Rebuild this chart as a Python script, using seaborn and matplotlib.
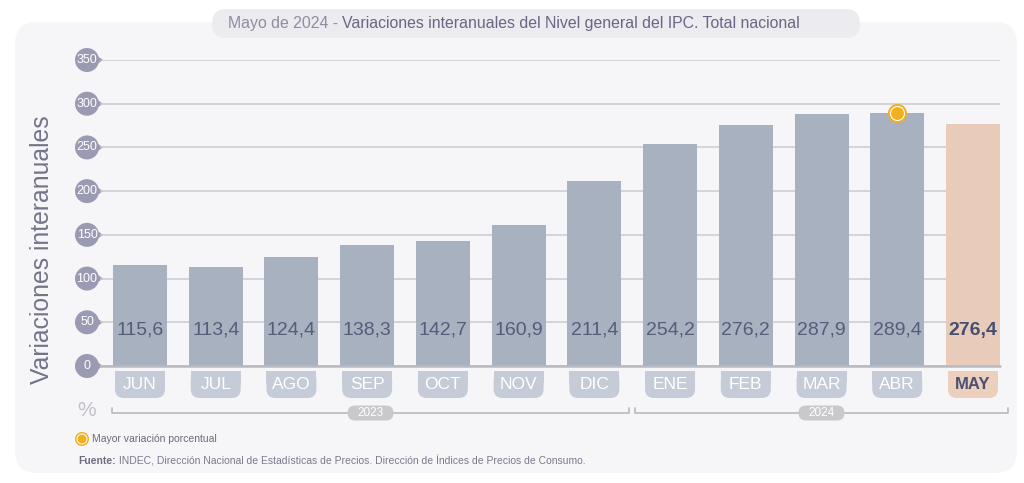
import matplotlib
matplotlib.use("Agg")
import matplotlib.pyplot as plt
import seaborn as sns
import pandas as pd
from matplotlib.patches import FancyBboxPatch, Rectangle, Circle, Polygon

# ---- data ----
months = ["JUN", "JUL", "AGO", "SEP", "OCT", "NOV", "DIC", "ENE", "FEB", "MAR", "ABR", "MAY"]
values = [115.6, 113.4, 124.4, 138.3, 142.7, 160.9, 211.4, 254.2, 276.2, 287.9, 289.4, 276.4]
years = ["2023"] * 7 + ["2024"] * 5
yticks = [0, 50, 100, 150, 200, 250, 300, 350]
max_month = "ABR"
title_a = "Mayo de 2024 - "
title_b = "Variaciones interanuales del Nivel general del IPC. Total nacional"
ylabel = "Variaciones interanuales"
legend_txt = "Mayor variación porcentual"
source_a = "Fuente:"
source_b = " INDEC, Dirección Nacional de Estadísticas de Precios. Dirección de Índices de Precios de Consumo."

df = pd.DataFrame({"mes": months, "valor": values, "anio": years})

sns.set_theme(style="white")
plt.rcParams["font.family"] = ["Liberation Sans", "DejaVu Sans"]

W, H = 1024, 483
fig = plt.figure(figsize=(W / 100, H / 100), dpi=100)
fig.patch.set_facecolor("white")

ov = fig.add_axes([0, 0, 1, 1], zorder=0)
ov.set_xlim(0, W)
ov.set_ylim(0, H)
ov.axis("off")

ax = fig.add_axes([100 / W, 117 / H, 900 / W, 306 / H], zorder=1)
ax.patch.set_alpha(0)

bar_col = "#a7b1bf"
hi_col = "#e8cbb9"
palette = {m: (hi_col if m == "MAY" else bar_col) for m in months}
bw = 0.713
sns.barplot(data=df, x="mes", y="valor", hue="mes", palette=palette, width=bw,
            saturation=1, legend=False, ax=ax, zorder=2, linewidth=0, edgecolor="none")
ax.set_xlim(-0.528, 11.357)
ax.set_ylim(0, 350)
ax.set_yticks(yticks)
ax.grid(axis="y", color="#cbcbd0", lw=1.1)
ax.set_axisbelow(True)
ax.tick_params(left=False, labelleft=False, bottom=False, labelbottom=False)
for s in ax.spines.values():
    s.set_visible(False)
ax.set_xlabel("")
ax.set_ylabel("")
ax.axhline(0, color="#b9b9c1", lw=1.8, zorder=3, clip_on=False)

# value labels
for i, (m, v) in enumerate(zip(months, values)):
    txt = f"{v:.1f}".replace(".", ",")
    if m == "MAY":
        ax.text(i, 41, txt, ha="center", va="center", fontsize=14, color="#474e70",
                fontweight="bold", zorder=4)
    else:
        ax.text(i, 41, txt, ha="center", va="center", fontsize=14, color="#565c7b", zorder=4)

# max marker
imax = months.index(max_month)
vmax = values[imax]
ax.scatter([imax], [vmax], s=190, color="#f0b020", zorder=5, clip_on=False, linewidths=0)
ax.scatter([imax], [vmax], s=118, color="white", zorder=6, clip_on=False, linewidths=0)
ax.scatter([imax], [vmax], s=86, color="#f0b020", zorder=7, clip_on=False, linewidths=0)


def to_px(x, y):
    return ax.transData.transform((x, y))


# background card and title pill
ov.add_patch(FancyBboxPatch((15, 10), 1002, 451, boxstyle="round,pad=0,rounding_size=22",
                            fc="#f6f6f8", ec="none", zorder=0))
ov.add_patch(FancyBboxPatch((212, 445), 648, 29, boxstyle="round,pad=0,rounding_size=14.5",
                            fc="#ebebf0", ec="none", zorder=1))
t1 = ov.text(228, 459.5, title_a, ha="left", va="center", fontsize=11.4, color="#8f8da0", zorder=2)
ov.annotate(title_b, xy=(1, 0), xycoords=t1, va="bottom", ha="left", fontsize=11.4,
            color="#6a6684", zorder=2)

# y label and %
ov.text(42, 233, ylabel, rotation=90, ha="center", va="center", fontsize=17.8, color="#73738a")
ov.text(87, 73, "%", ha="center", va="center", fontsize=15, color="#c0c0ca")

# y tick bubbles
for t in yticks:
    _, y = to_px(0, t)
    ov.add_patch(Polygon([(93, y + 7), (93, y - 7), (103, y)], closed=True, fc="#9a9ab2",
                         ec="none", zorder=3))
    ov.add_patch(Circle((87, y), 12, fc="#9a9ab2", ec="none", zorder=3))
    ov.text(87, y, str(t), ha="center", va="center", fontsize=9, color="white", zorder=4)

# month pills
bw_px = to_px(bw, 0)[0] - to_px(0, 0)[0]
pw = bw_px - 4
for i, m in enumerate(months):
    cx = to_px(i, 0)[0]
    fc = "#ecd0bd" if m == "MAY" else "#c5cbd7"
    ov.add_patch(FancyBboxPatch((cx - pw / 2, 85), pw, 27, boxstyle="round,pad=0,rounding_size=9",
                                fc=fc, ec="none", zorder=3))
    ov.add_patch(Rectangle((cx - pw / 2, 100), pw, 12, fc=fc, ec="none", zorder=3))
    if m == "MAY":
        ov.text(cx, 98.5, m, ha="center", va="center", fontsize=12, color="#4a5070",
                fontweight="bold", zorder=4)
    else:
        ov.text(cx, 98.5, m, ha="center", va="center", fontsize=12.5, color="white", zorder=4)

# year brackets
yl = 70
groups = [("2023", to_px(-0.37, 0)[0], to_px(6.5, 0)[0] - 3),
          ("2024", to_px(6.5, 0)[0] + 3, to_px(11.46, 0)[0])]
for lab, x0, x1 in groups:
    ov.plot([x0, x0, x1, x1], [yl + 5, yl, yl, yl + 5], color="#bdbdc4", lw=1.3, zorder=2)
    xm = (x0 + x1) / 2
    ov.add_patch(FancyBboxPatch((xm - 23, yl - 7.5), 46, 15, boxstyle="round,pad=0,rounding_size=7.5",
                                fc="#c9c9cd", ec="none", zorder=3))
    ov.text(xm, yl, lab, ha="center", va="center", fontsize=8.5, color="white", zorder=4)

# legend
ov.add_patch(Circle((82, 44), 7, fc="#f0b020", ec="none", zorder=3))
ov.add_patch(Circle((82, 44), 5.5, fc="white", ec="none", zorder=4))
ov.add_patch(Circle((82, 44), 4.5, fc="#f0b020", ec="none", zorder=5))
ov.text(92, 44, legend_txt, ha="left", va="center", fontsize=7.5, color="#6b6b7c")

# source
s1 = ov.text(78, 22, source_a, ha="left", va="center", fontsize=7.5, color="#6d6d82", fontweight="bold")
ov.annotate(source_b, xy=(1, 0), xycoords=s1, va="bottom", ha="left", fontsize=7.5, color="#7a7a8e")

fig.savefig("out.png", dpi=100, facecolor="white")
